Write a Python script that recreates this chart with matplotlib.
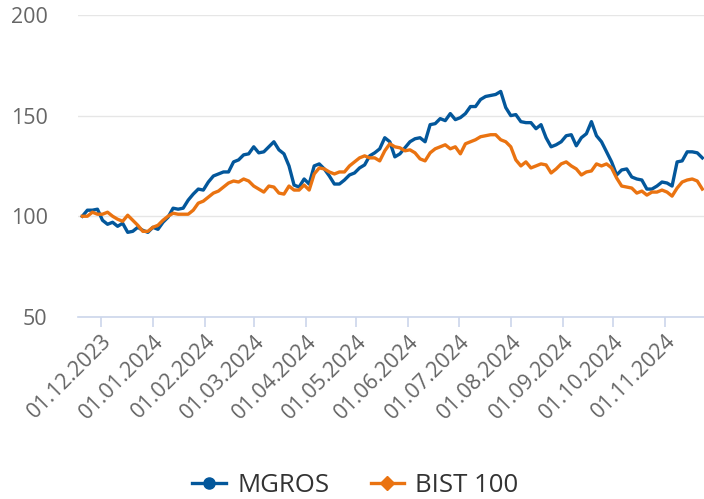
import pandas as pd
import matplotlib.pyplot as plt
import matplotlib.dates as mdates
from matplotlib.lines import Line2D

plt.rcParams["font.family"] = ["Open Sans", "DejaVu Sans"]

# sampled every 3 days, index 100 at start
dates = pd.date_range("2023-11-20", periods=124, freq="3D")

mgros = [100, 103, 103, 103.5, 98, 96, 97, 95, 96.5, 92,
         92.5, 94.5, 93, 92, 94.5, 93.5, 97, 99.5, 104, 103.5,
         104, 108, 111, 113.5, 113, 117, 120, 121, 122, 122,
         127, 128, 130.5, 131, 134.5, 131.5, 132, 134.5, 137, 133,
         131, 125, 115.5, 114.5, 118.5, 116, 125, 126, 123.5, 120,
         116, 116, 118, 120.5, 121.5, 124, 125.5, 130, 131.5, 133.5,
         139, 137, 129.5, 131, 134, 137, 138.5, 139, 137, 145.5,
         146, 148.5, 147.5, 151, 148, 149, 151, 154.5, 154.5, 158,
         159.5, 160, 160.5, 162, 154, 150, 150.5, 147, 146.5, 146.5,
         143.5, 145.5, 139, 134.5, 135.5, 137, 140, 140.5, 135, 139,
         141, 147, 140, 137, 132, 127, 120.5, 123, 123.5, 119.5,
         118.5, 118, 113.5, 113.5, 115, 117, 116.5, 115, 127, 127.5,
         132, 132, 131.5, 129]

bist100 = [100, 100, 102, 101, 101, 102, 100, 98.5, 97.5, 100.5,
           98, 95.5, 92.5, 92.5, 94.5, 95.5, 98, 100, 101.5, 101,
           101, 101, 103, 106.5, 107.5, 109.5, 111.5, 112.5, 114.5, 116.5,
           117.5, 117, 118.5, 117.5, 115, 113.5, 112, 115, 114.5, 111.5,
           111, 115, 113, 113, 115.5, 113, 121, 124, 123.5, 122,
           121, 122, 122, 125, 127, 129, 130, 129, 129, 127.5,
           132.5, 136, 134.5, 134, 132.5, 133, 131.5, 128.5, 127.5, 131.5,
           133.5, 134.5, 135.5, 133.5, 134.5, 131, 136, 137, 138, 139.5,
           140, 140.5, 140.5, 138, 137, 134.5, 128, 125, 127, 124,
           125, 126, 125.5, 121.5, 123.5, 126, 127, 125, 123.5, 120.5,
           122, 122.5, 126, 125, 126, 124, 119, 115, 114.5, 114,
           111.5, 112.5, 110.5, 112, 112, 113, 112, 110, 114, 117,
           118, 118.5, 117.5, 113.5]

blue = "#03579b"
orange = "#ea7311"
axis_col = "#ccd6eb"

fig = plt.figure(figsize=(7.04, 4.99), dpi=100)
ax = fig.add_axes([0.111, 0.365, 0.889, 0.605])

ax.plot(dates, mgros, color=blue, lw=2.4, solid_joinstyle="round")
ax.plot(dates, bist100, color=orange, lw=2.4, solid_joinstyle="round")

ax.set_xlim(pd.Timestamp("2023-11-17 12:00"), pd.Timestamp("2024-11-24"))
ax.set_ylim(50, 200)
ax.set_yticks([50, 100, 150, 200])
ax.grid(axis="y", color="#e6e6e6", lw=1)
ax.set_axisbelow(True)

ax.xaxis.set_major_locator(mdates.MonthLocator(bymonthday=1))
ax.xaxis.set_major_formatter(mdates.DateFormatter("%d.%m.%Y"))

for s in ["top", "right", "left"]:
    ax.spines[s].set_visible(False)
ax.spines["bottom"].set_color(axis_col)
ax.spines["bottom"].set_linewidth(1.2)

ax.tick_params(axis="y", length=0, pad=22, labelsize=15.5, labelcolor="#666666")
ax.tick_params(axis="x", length=7, width=1.2, color=axis_col, pad=3,
               labelsize=15.5, labelcolor="#666666")
for lab in ax.get_xticklabels():
    lab.set_rotation(45)
    lab.set_ha("right")
    lab.set_va("top")
    lab.set_rotation_mode("anchor")

handles = [
    Line2D([], [], color=blue, lw=2.4, marker="o", markersize=8),
    Line2D([], [], color=orange, lw=2.4, marker="D", markersize=7),
]
fig.legend(handles, ["MGROS", "BIST 100"], loc="lower center",
           bbox_to_anchor=(0.505, -0.045), ncol=2, frameon=False,
           fontsize=18.5, labelcolor="#333333", handlelength=1.3,
           columnspacing=1.6, handletextpad=0.45)

fig.savefig("out.png", dpi=100)
